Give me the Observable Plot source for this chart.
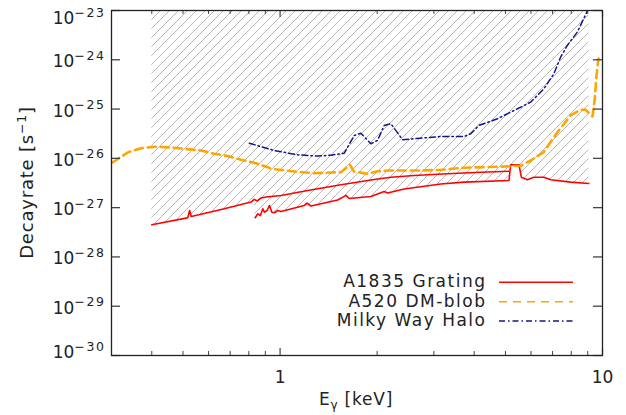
<!DOCTYPE html>
<html><head><meta charset="utf-8">
<script src="https://cdn.jsdelivr.net/npm/d3@7"></script>
<script src="https://cdn.jsdelivr.net/npm/@observablehq/plot@0.6"></script>
<style>
body{margin:0;background:#fff;}
#wrap{position:relative;width:626px;height:415px;}
</style></head><body><div id="wrap"></div>
<script>
// ---- data (E in keV, decay rate in s^-1) ----
const a1835UpperE = [0.40, 0.515, 0.518, 0.524, 0.530, 0.657, 0.813, 0.831, 0.849, 0.873, 0.905, 1.007, 1.218, 1.545, 1.959, 2.207, 2.605, 3.305, 4.191, 5.129];
const a1835UpperRate = [4.49e-28, 6.2e-28, 6.4e-28, 8.75e-28, 6.6e-28, 9.18e-28, 1.30e-27, 1.47e-27, 1.37e-27, 1.57e-27, 1.64e-27, 1.77e-27, 2.23e-27, 2.91e-27, 3.73e-27, 4.15e-27, 4.49e-27, 4.86e-27, 5.24e-27, 5.49e-27];
const a1835LowerE = [0.837, 0.853, 0.869, 0.884, 0.894, 0.912, 0.927, 0.943, 0.960, 0.984, 1.007, 1.189, 1.212, 1.247, 1.509, 1.601, 1.639, 1.913, 2.103, 2.155, 2.426, 3.151, 3.721, 5.129, 5.19, 5.507, 5.602, 5.846, 6.128, 6.581, 6.902, 7.96, 9.07];
const a1835LowerRate = [6.23e-28, 7.50e-28, 6.93e-28, 9.48e-28, 8.09e-28, 8.75e-28, 1.11e-27, 8.09e-28, 7.87e-28, 8.75e-28, 8.36e-28, 1.11e-27, 1.24e-27, 1.08e-27, 1.43e-27, 1.77e-27, 1.53e-27, 1.68e-27, 2.13e-27, 1.98e-27, 2.39e-27, 3.02e-27, 3.29e-27, 3.56e-27, 7.41e-27, 7.41e-27, 4.15e-27, 3.67e-27, 4.15e-27, 4.15e-27, 3.67e-27, 3.29e-27, 3.09e-27];
const a520E = [0.302, 0.338, 0.371, 0.407, 0.460, 0.504, 0.569, 0.625, 0.689, 0.757, 0.831, 0.916, 0.938, 1.105, 1.274, 1.545, 1.647, 1.695, 1.868, 2.006, 2.207, 2.733, 3.151, 3.713, 4.72, 5.574, 5.985, 6.566, 7.24, 7.96, 8.549, 8.859, 9.31, 9.45, 9.58, 9.72];
const a520Rate = [8.24e-27, 1.33e-26, 1.61e-26, 1.72e-26, 1.66e-26, 1.56e-26, 1.44e-26, 1.24e-26, 1.11e-26, 9.35e-27, 8.13e-27, 6.62e-27, 6.14e-27, 5.42e-27, 5.00e-27, 5.24e-27, 7.41e-27, 5.42e-27, 4.86e-27, 5.49e-27, 5.67e-27, 5.67e-27, 5.86e-27, 6.44e-27, 6.75e-27, 7.07e-27, 9.05e-27, 1.33e-26, 3.35e-26, 7.41e-26, 9.67e-26, 9.67e-26, 7.07e-26, 1.49e-25, 4.80e-25, 1.06e-24];
const mwE = [0.803, 0.960, 1.134, 1.308, 1.438, 1.581, 1.698, 1.781, 1.913, 2.006, 2.103, 2.207, 2.399, 2.733, 3.151, 3.721, 3.903, 4.140, 4.72, 5.314, 5.985, 6.581, 7.068, 7.413, 7.776, 8.350, 8.967];
const mwRate = [2.03e-26, 1.44e-26, 1.18e-26, 1.11e-26, 1.16e-26, 1.27e-26, 2.91e-26, 3.24e-26, 1.98e-26, 2.31e-26, 4.65e-26, 5.03e-26, 2.38e-26, 2.57e-26, 2.78e-26, 2.78e-26, 3.15e-26, 4.65e-26, 6.35e-26, 9.36e-26, 1.38e-25, 2.58e-25, 5.20e-25, 1.13e-24, 1.95e-24, 3.63e-24, 9.68e-24];
const excludedTop = 1e-23;
const yTickExponents = [-30, -29, -28, -27, -26, -25, -24, -23];
const xMajorTicks = [1, 10];
const xMinorTicks = [0.4, 0.5, 0.6, 0.7, 0.8, 0.9, 2, 3, 4, 5, 6, 7, 8, 9];
const legendLabels = ["A1835 Grating", "A520 DM-blob", "Milky Way Halo"];
const seriesColors = ["#ff0000", "#ffa500", "#14148c"];

// ---- tables ----
const zip = (E, R) => E.map((e, i) => ({E: e, rate: R[i]}));
const upper = zip(a1835UpperE, a1835UpperRate);
const lower = zip(a1835LowerE, a1835LowerRate);
const a520 = zip(a520E, a520Rate);
const mw = zip(mwE, mwRate);
const hatch = upper.filter(d => d.E < a1835LowerE[0]).concat(lower);

const W = 626, H = 415, mL = 111, mR = 24, mT = 10, mB = 60;
const FW = W - mL - mR, FH = H - mT - mB;
const tickColor = "#444";

const plot = Plot.plot({
  width: W, height: H,
  marginLeft: mL, marginRight: mR, marginTop: mT, marginBottom: mB,
  x: {type: "log", domain: [0.3, 10], axis: null},
  y: {type: "log", domain: [1e-30, 1e-23], axis: null},
  style: {fontFamily: "'DejaVu Sans', sans-serif", background: "white", overflow: "visible"},
  marks: [
    Plot.areaY(hatch, {x: "E", y1: "rate", y2: excludedTop, fill: "url(#hatch)", curve: "linear"}),
    Plot.line(upper, {x: "E", y: "rate", stroke: seriesColors[0], strokeWidth: 1.6}),
    Plot.line(lower, {x: "E", y: "rate", stroke: seriesColors[0], strokeWidth: 1.6}),
    Plot.line(a520, {x: "E", y: "rate", stroke: seriesColors[1], strokeWidth: 2.6, strokeDasharray: "8,5"}),
    Plot.line(mw, {x: "E", y: "rate", stroke: seriesColors[2], strokeWidth: 1.5, strokeDasharray: "6,3,1.5,3"}),
    // ticks (inward)
    Plot.tickY(yTickExponents, {y: d => 10 ** d, insetRight: FW - 9, stroke: tickColor, strokeWidth: 1.3}),
    Plot.tickY(yTickExponents, {y: d => 10 ** d, insetLeft: FW - 9, stroke: tickColor, strokeWidth: 1.3}),
    Plot.tickX(xMajorTicks, {x: d => d, insetTop: FH - 7, stroke: tickColor, strokeWidth: 1.2}),
    Plot.tickX(xMajorTicks, {x: d => d, insetBottom: FH - 7, stroke: tickColor, strokeWidth: 1.2}),
    Plot.tickX(xMinorTicks, {x: d => d, insetTop: FH - 4, stroke: tickColor, strokeWidth: 1}),
    Plot.tickX(xMinorTicks, {x: d => d, insetBottom: FH - 4, stroke: tickColor, strokeWidth: 1}),
    Plot.frame({stroke: "#222", strokeWidth: 1.3}),
    Plot.text(yTickExponents, {y: d => 10 ** d, text: d => "10^" + d, frameAnchor: "left", textAnchor: "end", dx: -6, dy: 2, fontSize: 17, fill: "#222"}),
    Plot.text(xMajorTicks, {x: d => d, text: d => String(d), frameAnchor: "bottom", lineAnchor: "top", dy: 15, fontSize: 17, fill: "#222"})
  ]
});

const svg = d3.select(plot);
svg.insert("defs", ":first-child").append("pattern")
  .attr("id", "hatch").attr("patternUnits", "userSpaceOnUse").attr("width", 9).attr("height", 9)
  .append("path").attr("d", "M-1,1 L1,-1 M0,9 L9,0 M8,10 L10,8")
  .attr("stroke", "#b8b8b8").attr("stroke-width", 1).attr("fill", "none");

// superscript tick labels
const ylabs = [];
svg.selectAll("text").each(function () {
  const m = /^10\^(-?\d+)$/.exec(this.textContent);
  if (!m) return;
  ylabs.push([this, m[1]]);
});
ylabs.forEach(([el, exp]) => {
  const t = d3.select(el); t.text("");
  const shift = exp === "-23" ? 6 : exp === "-30" ? -5 : 0;
  t.append("tspan").attr("dy", shift).text("10");
  t.append("tspan").attr("dy", "-7.4").attr("font-size", "12.5px").attr("letter-spacing", "1.6px").text(exp.replace("-", "\u2212"));
});

const g = svg.append("g").attr("font-family", "'DejaVu Sans', sans-serif").attr("fill", "#222");
// y label
const yl = g.append("text").attr("transform", "translate(32.5,182.5) rotate(-90)")
  .attr("text-anchor", "middle").attr("font-size", 18).attr("letter-spacing", "0.8px");
yl.append("tspan").text("Decayrate [s");
yl.append("tspan").attr("dy", -7).attr("font-size", 12.5).text("\u22121");
yl.append("tspan").attr("dy", 7).text("]");
// x label
const xl = g.append("text").attr("x", 356).attr("y", 405).attr("text-anchor", "middle").attr("font-size", 17).attr("letter-spacing", "0.8px");
xl.append("tspan").text("E");
xl.append("tspan").attr("dy", 4).attr("font-size", 12).text("\u03b3");
xl.append("tspan").attr("dy", -4).text(" [keV]");
// legend
const legBase = [287.3, 306.7, 326];
const legDash = [null, "8,6", "6,3,1.5,3"];
const legWidth = [1.6, 1.6, 1.5];
legendLabels.forEach((lab, i) => {
  g.append("text").attr("x", 486.5).attr("y", legBase[i]).attr("text-anchor", "end")
    .attr("font-size", 17).attr("letter-spacing", "1.5px").text(lab);
  const ln = g.append("line").attr("x1", 499).attr("x2", 573).attr("y1", legBase[i] - 5).attr("y2", legBase[i] - 5)
    .attr("stroke", seriesColors[i]).attr("stroke-width", legWidth[i]);
  if (legDash[i]) ln.attr("stroke-dasharray", legDash[i]);
});

document.getElementById("wrap").appendChild(plot);
</script></body></html>
